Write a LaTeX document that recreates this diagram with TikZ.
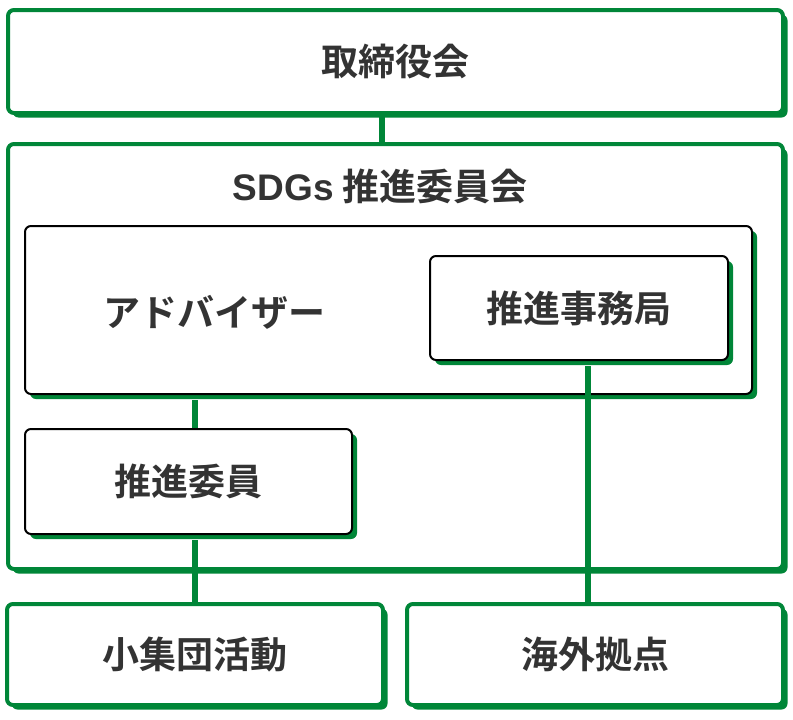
\documentclass[tikz,border=0pt]{standalone}
\usepackage{fontspec}
\setmainfont{Noto Sans CJK JP}[BoldFont={Noto Sans CJK JP Bold}]
\newfontfamily\latin{Liberation Sans}
\usetikzlibrary{shadows}
\definecolor{sdggreen}{RGB}{0,134,56}
\definecolor{ink}{RGB}{51,51,51}

\begin{document}
\begin{tikzpicture}[x=1pt,y=-1pt,line join=round,
    font=\fontsize{37}{42}\selectfont\bfseries,text=ink,
    gbox/.style={draw=sdggreen,line width=4pt,fill=white,rounded corners=6pt,inner sep=0pt,
      drop shadow={shadow xshift=4.5pt,shadow yshift=-4.5pt,fill=sdggreen,opacity=1}},
    bbox/.style={draw=black,line width=2pt,fill=white,rounded corners=6pt,inner sep=0pt,
      drop shadow={shadow xshift=5pt,shadow yshift=-5pt,fill=sdggreen,opacity=1}},
    link/.style={draw=sdggreen,line width=6pt}]
	\useasboundingbox (0,0) rectangle (793,720);
	% boxes
	\node[gbox,minimum width=775pt,minimum height=103pt] (board) at (395.5,61.5) {取締役会};
	\node[gbox,minimum width=775pt,minimum height=425pt] (sdgs) at (395.5,356.5) {};
	\node (title) at (380,186) {{\latin SDGs} 推進委員会};
	\node[bbox,minimum width=727pt,minimum height=168pt] (advisor) at (388.5,310) {};
	\node (advlabel) at (214,312) {アドバイザー};
	\node[bbox,minimum width=298pt,minimum height=104pt] (office) at (579,308) {推進事務局};
	\node[bbox,minimum width=327pt,minimum height=105pt] (member) at (188.5,481.5) {推進委員};
	\node[gbox,minimum width=376pt,minimum height=101pt] (group) at (195,654.5) {小集団活動};
	\node[gbox,minimum width=376pt,minimum height=101pt] (overseas) at (595,654.5) {海外拠点};
	% links
	\coordinate (stem) at ([xshift=-13.5pt]board.south);
	\coordinate (drop) at ([xshift=9pt]office.south);
	\draw[link] (stem) -- (stem |- sdgs.north);
	\draw[link,shorten <=5pt] (group.north |- advisor.south) -- (group.north |- member.north);
	\draw[link,shorten <=5pt] (group.north |- member.south) -- (group.north);
	\draw[link,shorten <=5pt] (drop) -- (drop |- overseas.north);
\end{tikzpicture}
\end{document}
